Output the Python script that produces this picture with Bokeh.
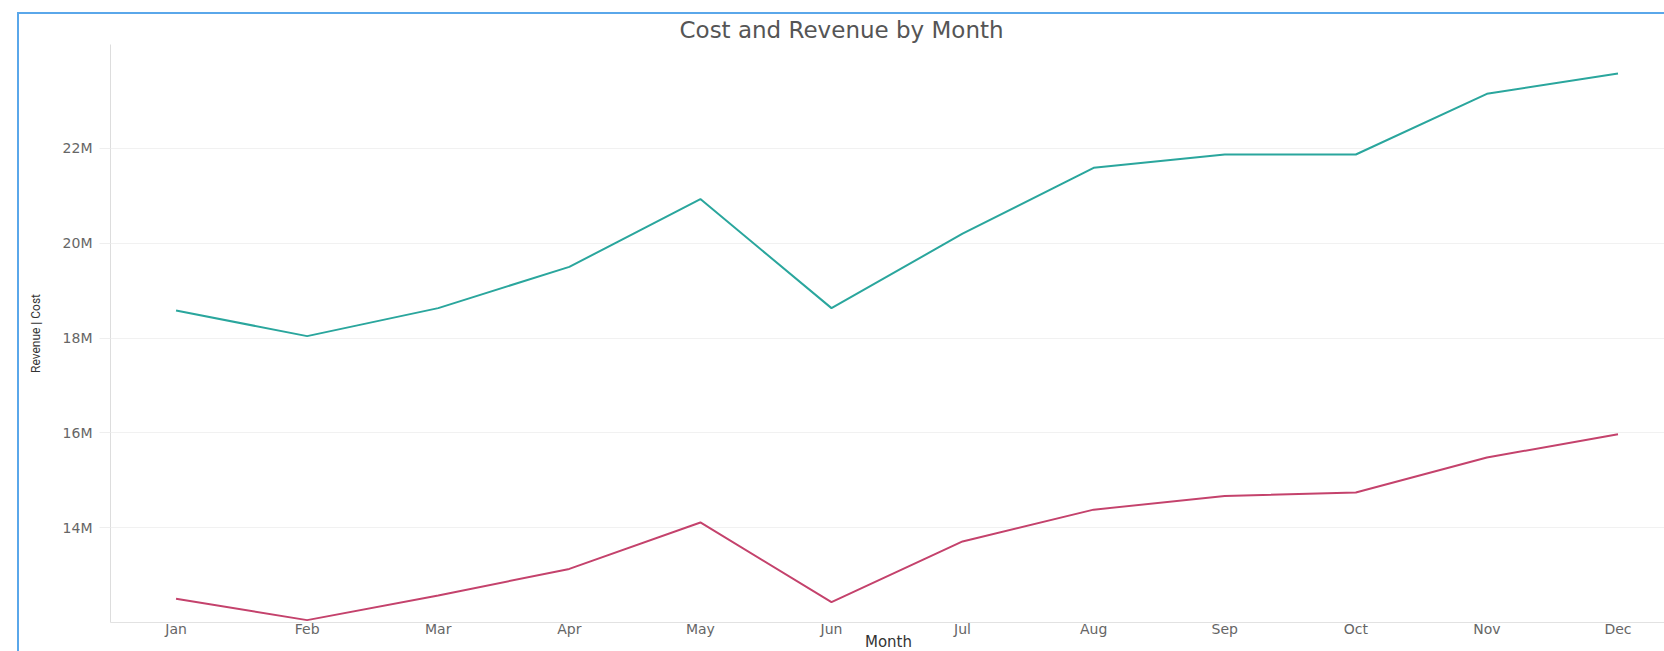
from bokeh.plotting import figure
from bokeh.models import Range1d, FixedTicker
from bokeh.embed import file_html
from bokeh.resources import INLINE

# ---- data ----
months = ["Jan", "Feb", "Mar", "Apr", "May", "Jun", "Jul", "Aug", "Sep", "Oct", "Nov", "Dec"]
revenue = [18.58, 18.04, 18.63, 19.50, 20.93, 18.63, 20.20, 21.59, 21.87, 21.87, 23.15, 23.58]  # millions
cost = [12.50, 12.05, 12.57, 13.13, 14.11, 12.43, 13.71, 14.38, 14.67, 14.74, 15.48, 15.97]      # millions
y_ticks = [14, 16, 18, 20, 22]
y_tick_labels = ["14M", "16M", "18M", "20M", "22M"]
chart_title = "Cost and Revenue by Month"
x_title = "Month"
y_title = "Revenue | Cost"

xs = list(range(len(months)))

p = figure(
    width=1647, height=639,
    x_range=Range1d(-0.5, 11.37), y_range=Range1d(12.0, 24.19),
    output_backend="svg", toolbar_location=None,
    min_border_left=91, min_border_right=0, min_border_top=30, min_border_bottom=28,
    margin=(12, 0, 0, 17),
)
p.styles = {"border-top": "2px solid #5aa7ea", "border-left": "2px solid #5aa7ea"}
p.outline_line_color = None
p.background_fill_color = "white"
p.border_fill_color = "white"

p.title.text = chart_title
p.title.text_font = "DejaVu Sans"
p.title.text_font_size = "23px"
p.title.text_font_style = "normal"
p.title.text_color = "#555555"
p.title.align = "left"
p.title.offset = 569
p.title.standoff = 0
p.title.vertical_align = "top"

p.line(xs, revenue, line_color="#2aa69d", line_width=2)
p.line(xs, cost, line_color="#c4426c", line_width=2)

# x axis
p.xaxis.ticker = FixedTicker(ticks=xs)
p.xaxis.major_label_overrides = {i: m for i, m in zip(xs, months)}
p.xaxis.major_tick_line_color = None
p.xaxis.major_tick_out = 0
p.xaxis.major_tick_in = 0
p.xaxis.minor_tick_line_color = None
p.xaxis.axis_line_color = "#e2e2e2"
p.xaxis.major_label_text_font = "DejaVu Sans"
p.xaxis.major_label_text_font_size = "14px"
p.xaxis.major_label_text_color = "#666666"
p.xaxis.major_label_standoff = -2
p.xaxis.axis_label = x_title
p.xaxis.axis_label_text_font = "DejaVu Sans"
p.xaxis.axis_label_text_font_size = "15px"
p.xaxis.axis_label_text_font_style = "normal"
p.xaxis.axis_label_text_color = "#333333"
p.xaxis.axis_label_standoff = -7
p.xgrid.grid_line_color = None

# y axis
p.yaxis.ticker = FixedTicker(ticks=y_ticks)
p.yaxis.major_label_overrides = {t: l for t, l in zip(y_ticks, y_tick_labels)}
p.yaxis.major_tick_out = 11
p.yaxis.major_tick_in = 0
p.yaxis.major_tick_line_color = "#eeeeee"
p.yaxis.minor_tick_line_color = None
p.yaxis.axis_line_color = "#dddddd"
p.yaxis.major_label_text_font = "DejaVu Sans"
p.yaxis.major_label_text_font_size = "14px"
p.yaxis.major_label_text_color = "#666666"
p.yaxis.major_label_standoff = 7
p.yaxis.axis_label = y_title
p.yaxis.axis_label_text_font = "Roboto"
p.yaxis.axis_label_text_font_size = "12px"
p.yaxis.axis_label_text_font_style = "normal"
p.yaxis.axis_label_text_color = "#333333"
p.yaxis.axis_label_standoff = 17
p.ygrid.grid_line_color = "#f1f1f1"

open("out.html", "w").write(file_html(p, INLINE))
